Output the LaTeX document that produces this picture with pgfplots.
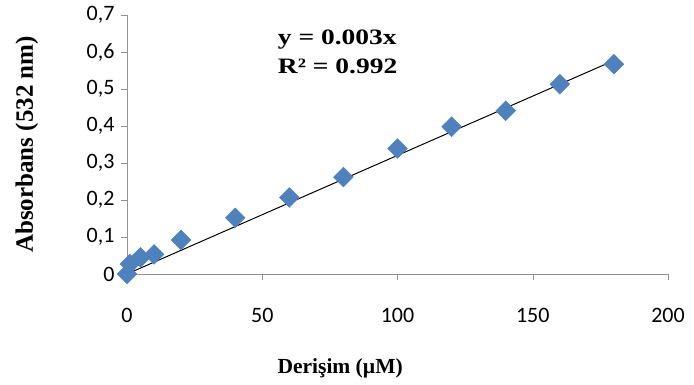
\documentclass[border=0pt]{standalone}
\usepackage{pgfplots}
\pgfplotsset{compat=1.18}
\usepackage{fontspec}
\setmainfont{Liberation Serif}
\newfontfamily\calibri{Carlito}
\definecolor{mkblue}{HTML}{4F81BD}
\begin{document}
\begin{tikzpicture}
\useasboundingbox (0,0) rectangle (694pt,385pt);
\begin{axis}[
  at={(127pt,111pt)}, anchor=south west,
  width=541pt, height=259pt, scale only axis,
  xmin=0, xmax=200, ymin=0, ymax=0.7,
  axis x line*=bottom, axis y line*=left,
  xtick={0,50,100,150,200}, ytick={0,0.1,0.2,0.3,0.4,0.5,0.6,0.7},
  tick align=outside, major tick length=6pt,
  axis line style={draw=gray!85},
  tick style={draw=gray!85},
  tick label style={font=\calibri\fontsize{22}{22}\selectfont},
  /pgf/number format/assume math mode=true,
  /pgf/number format/use comma,
  yticklabel style={/pgf/number format/fixed, /pgf/number format/precision=1, xshift=-3pt},
  xticklabel style={yshift=-25pt},
  xlabel={Derişim (µM)},
  ylabel={Absorbans (532 nm)},
  xlabel style={font=\bfseries\fontsize{21.5}{21.5}\selectfont, at={(axis description cs:0.394,-0.363)}, anchor=center},
  ylabel style={font=\bfseries\fontsize{25}{25}\selectfont, at={(axis description cs:-0.185,0.5)}, anchor=center},
  clip=false,
]
\addplot[only marks, mark=square*, mark size=7pt, mark options={fill=mkblue, draw=mkblue, rotate=45}] coordinates {
  (0,0) (1,0.027) (5,0.045) (10,0.053) (20,0.092) (40,0.152)
  (60,0.207) (80,0.262) (100,0.339) (120,0.398) (140,0.441)
  (160,0.513) (180,0.567)
};
\addplot[black, line width=1pt] coordinates {(0,0) (180,0.577)};
\node[anchor=west, align=left, font=\bfseries\fontsize{22}{29}\selectfont] at (axis cs:54.5,0.600) {\scalebox{1.25}[1]{y = 0.003x}\\\scalebox{1.25}[1]{R² = 0.992}};
\end{axis}
\end{tikzpicture}
\end{document}
